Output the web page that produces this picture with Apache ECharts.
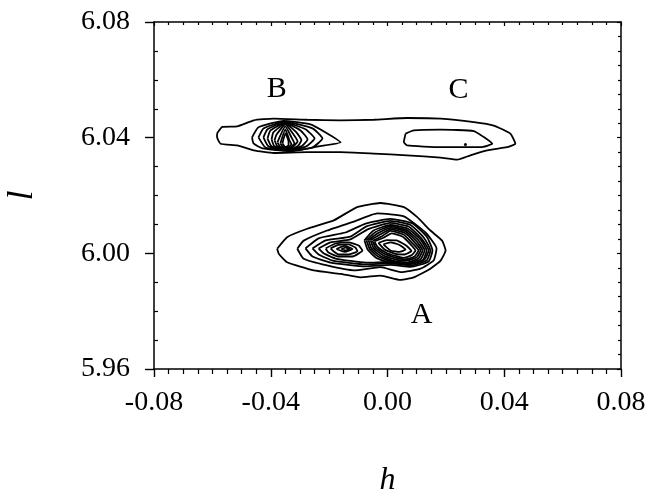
<!DOCTYPE html>
<html>
<head>
<meta charset="utf-8">
<script src="https://cdn.jsdelivr.net/npm/echarts@6/dist/echarts.min.js"></script>
<style>
  html, body { margin: 0; padding: 0; background: #fff; }
  #main { width: 648px; height: 490px; }
</style>
</head>
<body>
<div id="main"></div>
<script>
// contour rings, points are [h, l]
const ringBandBC = [
  [-0.0584, 6.0414], [-0.0566, 6.0437], [-0.0515, 6.0439], [-0.0458, 6.0460], [-0.0390, 6.0466],
  [-0.0275, 6.0462], [-0.0161, 6.0460], [-0.0047, 6.0462], [0.0067, 6.0468], [0.0182, 6.0466],
  [0.0296, 6.0454], [0.0364, 6.0442], [0.0421, 6.0414], [0.0438, 6.0379], [0.0410, 6.0367],
  [0.0342, 6.0356], [0.0284, 6.0339], [0.0239, 6.0324], [0.0182, 6.0331], [0.0067, 6.0339],
  [-0.0047, 6.0345], [-0.0161, 6.0350], [-0.0275, 6.0350], [-0.0390, 6.0347], [-0.0458, 6.0356],
  [-0.0515, 6.0373], [-0.0572, 6.0379], [-0.0584, 6.0402]
];

const ringC = [
  [0.0062, 6.0414], [0.0090, 6.0425], [0.0182, 6.0428], [0.0296, 6.0423], [0.0330, 6.0402],
  [0.0359, 6.0379], [0.0319, 6.0367], [0.0182, 6.0367], [0.0067, 6.0373], [0.0056, 6.0385]
];
const dotC = [[0.0267, 6.0376]];

const ringsB = [
  [[-0.0464, 6.0401], [-0.0442, 6.0436], [-0.0356, 6.0458], [-0.0264, 6.0446], [-0.0212, 6.0418],
   [-0.0161, 6.0384], [-0.0236, 6.0370], [-0.0332, 6.0353], [-0.0428, 6.0363], [-0.0459, 6.0380]],
  [[-0.0442, 6.0401], [-0.0425, 6.0432], [-0.0353, 6.0455], [-0.0257, 6.0432], [-0.0223, 6.0397],
   [-0.0257, 6.0366], [-0.0339, 6.0354], [-0.0418, 6.0366]],
  [[-0.0425, 6.0401], [-0.0411, 6.0429], [-0.0353, 6.0453], [-0.0281, 6.0429], [-0.0250, 6.0397],
   [-0.0278, 6.0370], [-0.0339, 6.0356], [-0.0408, 6.0370]],
  [[-0.0411, 6.0397], [-0.0401, 6.0425], [-0.0351, 6.0451], [-0.0298, 6.0425], [-0.0274, 6.0394],
   [-0.0295, 6.0370], [-0.0339, 6.0358], [-0.0397, 6.0370]],
  [[-0.0397, 6.0394], [-0.0391, 6.0418], [-0.0350, 6.0449], [-0.0312, 6.0418], [-0.0295, 6.0391],
   [-0.0308, 6.0370], [-0.0339, 6.0359], [-0.0387, 6.0370]],
  [[-0.0387, 6.0391], [-0.0380, 6.0411], [-0.0350, 6.0446], [-0.0322, 6.0411], [-0.0308, 6.0387],
   [-0.0322, 6.0370], [-0.0339, 6.0361], [-0.0377, 6.0370]],
  [[-0.0377, 6.0384], [-0.0350, 6.0439], [-0.0329, 6.0401], [-0.0319, 6.0380], [-0.0336, 6.0365],
   [-0.0367, 6.0368]],
  [[-0.0367, 6.0380], [-0.0350, 6.0429], [-0.0336, 6.0391], [-0.0329, 6.0377], [-0.0343, 6.0366],
   [-0.0360, 6.0370]],
  [[-0.0360, 6.0380], [-0.0350, 6.0415], [-0.0339, 6.0387], [-0.0339, 6.0373], [-0.0350, 6.0368]]
];

// rings around both parts of A, outer to inner
const ringsA = [
  [[-0.0378, 6.0016], [-0.0344, 6.0056], [-0.0275, 6.0085], [-0.0184, 6.0114], [-0.0104, 6.0160],
   [-0.0024, 6.0174], [0.0056, 6.0160], [0.0102, 6.0125], [0.0147, 6.0079], [0.0187, 6.0044],
   [0.0199, 6.0010], [0.0182, 5.9975], [0.0147, 5.9947], [0.0090, 5.9917], [0.0045, 5.9908],
   [-0.0024, 5.9923], [-0.0093, 5.9917], [-0.0161, 5.9929], [-0.0253, 5.9941], [-0.0344, 5.9969],
   [-0.0372, 5.9998]],
  [[-0.0309, 6.0016], [-0.0287, 6.0044], [-0.0207, 6.0079], [-0.0115, 6.0110], [-0.0035, 6.0138],
   [0.0056, 6.0128], [0.0130, 6.0072], [0.0168, 6.0017], [0.0158, 5.9975], [0.0113, 5.9947],
   [0.0045, 5.9935], [-0.0024, 5.9952], [-0.0115, 5.9941], [-0.0207, 5.9958], [-0.0287, 5.9981]],
  [[-0.0281, 6.0017], [-0.0236, 6.0052], [-0.0144, 6.0072], [-0.0075, 6.0103], [0.0010, 6.0119],
   [0.0086, 6.0103], [0.0134, 6.0058], [0.0154, 6.0010], [0.0141, 5.9972], [0.0079, 5.9953],
   [0.0010, 5.9960], [-0.0075, 5.9955], [-0.0195, 5.9968], [-0.0257, 5.9989]],
  [[-0.0257, 6.0017], [-0.0212, 6.0045], [-0.0127, 6.0058], [-0.0072, 6.0093], [0.0010, 6.0112],
   [0.0079, 6.0098], [0.0124, 6.0055], [0.0147, 6.0010], [0.0134, 5.9975], [0.0079, 5.9958],
   [0.0010, 5.9965], [-0.0075, 5.9962], [-0.0188, 5.9975], [-0.0236, 5.9996]],
  [[-0.0236, 6.0017], [-0.0195, 6.0038], [-0.0127, 6.0048], [-0.0068, 6.0083], [0.0010, 6.0105],
   [0.0072, 6.0093], [0.0116, 6.0052], [0.0141, 6.0010], [0.0127, 5.9979], [0.0075, 5.9963],
   [0.0010, 5.9970], [-0.0075, 5.9968], [-0.0178, 5.9982], [-0.0219, 6.0000]]
];

// left sub-peak of A
const ringsAleft = [
  [[-0.0212, 6.0017], [-0.0178, 6.0034], [-0.0134, 6.0038], [-0.0099, 6.0027], [-0.0086, 6.0010],
   [-0.0120, 5.9989], [-0.0168, 5.9989], [-0.0202, 6.0003]],
  [[-0.0195, 6.0017], [-0.0168, 6.0029], [-0.0134, 6.0031], [-0.0110, 6.0020], [-0.0103, 6.0007],
   [-0.0134, 5.9996], [-0.0168, 5.9996], [-0.0185, 6.0007]],
  [[-0.0175, 6.0015], [-0.0147, 6.0026], [-0.0120, 6.0015], [-0.0147, 6.0005]],
  [[-0.0158, 6.0015], [-0.0144, 6.0020], [-0.0130, 6.0015], [-0.0144, 6.0010]]
];

// dense right core of A
const ringsAright = [
  [[-0.0079, 6.0045], [-0.0048, 6.0079], [0.0010, 6.0098], [0.0069, 6.0086], [0.0113, 6.0048],
   [0.0134, 6.0010], [0.0120, 5.9975], [0.0072, 5.9962], [0.0010, 5.9967], [-0.0038, 5.9984],
   [-0.0068, 6.0013]],
  [[-0.0072, 6.0045], [-0.0041, 6.0074], [0.0010, 6.0093], [0.0065, 6.0081], [0.0106, 6.0045],
   [0.0127, 6.0010], [0.0113, 5.9979], [0.0069, 5.9965], [0.0014, 5.9972], [-0.0031, 5.9988],
   [-0.0061, 6.0015]],
  [[-0.0065, 6.0045], [-0.0034, 6.0069], [0.0010, 6.0088], [0.0062, 6.0076], [0.0100, 6.0041],
   [0.0120, 6.0010], [0.0106, 5.9982], [0.0065, 5.9968], [0.0017, 5.9975], [-0.0024, 5.9991],
   [-0.0055, 6.0017]],
  [[-0.0058, 6.0045], [-0.0027, 6.0064], [0.0010, 6.0083], [0.0058, 6.0071], [0.0093, 6.0038],
   [0.0113, 6.0010], [0.0100, 5.9986], [0.0062, 5.9974], [0.0020, 5.9981], [-0.0017, 5.9994],
   [-0.0048, 6.0019]],
  [[-0.0051, 6.0043], [-0.0021, 6.0058], [0.0010, 6.0078], [0.0055, 6.0065], [0.0086, 6.0034],
   [0.0106, 6.0010], [0.0093, 5.9989], [0.0058, 5.9979], [0.0024, 5.9986], [-0.0010, 5.9998],
   [-0.0041, 6.0020]],
  [[-0.0045, 6.0041], [-0.0014, 6.0054], [0.0014, 6.0069], [0.0051, 6.0058], [0.0079, 6.0031],
   [0.0096, 6.0010], [0.0082, 5.9993], [0.0055, 5.9984], [0.0027, 5.9991], [-0.0003, 6.0001],
   [-0.0034, 6.0022]],
  [[-0.0031, 6.0036], [-0.0003, 6.0046], [0.0031, 6.0045], [0.0065, 6.0026], [0.0082, 6.0008],
   [0.0058, 5.9996], [0.0027, 5.9998], [-0.0010, 6.0013]],
  [[-0.0014, 6.0031], [0.0010, 6.0038], [0.0041, 6.0029], [0.0062, 6.0013], [0.0041, 6.0005],
   [0.0010, 6.0010]]
];

const peakNames = ['A', 'B', 'C'];
const peakPos = [[0.0117, 5.9785], [-0.0379, 6.0569], [0.0243, 6.0565]];

const hRange = [-0.08, 0.08];
const lRange = [5.96, 6.08];
const tickStep = 0.04;

const serif = '"Liberation Serif", "Times New Roman", serif';
const black = '#000';

const closeRing = ring => ring.concat([ring[0]]);
const allRings = [ringBandBC, ringC]
  .concat(ringsB, ringsA, ringsAleft, ringsAright);

const contourSeries = allRings.map(ring => ({
  type: 'line',
  data: closeRing(ring),
  showSymbol: false,
  silent: true,
  smooth: 0.15,
  lineStyle: { color: black, width: 1.8 }
}));

const fmt = v => (Math.abs(v) < 1e-9 ? '0.00' : v.toFixed(2));

const chart = echarts.init(document.getElementById('main'));
chart.setOption({
  animation: false,
  backgroundColor: '#fff',
  grid: { left: 154, right: 27, top: 22, bottom: 121, containLabel: false, outerBoundsMode: 'none' },
  xAxis: [
    {
      type: 'value',
      position: 'bottom',
      min: hRange[0],
      max: hRange[1],
      interval: tickStep,
      axisLine: { onZero: false, lineStyle: { color: black, width: 1.5 } },
      axisTick: { length: 8, lineStyle: { color: black, width: 1.4 } },
      minorTick: { show: true, splitNumber: 8, length: 5, lineStyle: { color: black, width: 1.2 } },
      splitLine: { show: false },
      axisLabel: { formatter: fmt, fontFamily: serif, fontSize: 28, color: black, margin: 20 },
      name: 'h',
      nameLocation: 'middle',
      nameGap: 96,
      nameTextStyle: { fontFamily: serif, fontStyle: 'italic', fontSize: 32, color: black }
    },
    {
      type: 'value',
      position: 'top',
      min: hRange[0],
      max: hRange[1],
      interval: tickStep,
      axisLine: { onZero: false, lineStyle: { color: black, width: 1.5 } },
      axisTick: { inside: true, length: 4, lineStyle: { color: black, width: 1.2 } },
      minorTick: { show: true, splitNumber: 8, length: 3, lineStyle: { color: black, width: 1.2 } },
      splitLine: { show: false },
      axisLabel: { show: false }
    }
  ],
  yAxis: [
    {
      type: 'value',
      position: 'left',
      min: lRange[0],
      max: lRange[1],
      interval: tickStep,
      axisLine: { onZero: false, lineStyle: { color: black, width: 1.5 } },
      axisTick: { length: 9, lineStyle: { color: black, width: 1.4 } },
      minorTick: { show: true, splitNumber: 4, length: -4, lineStyle: { color: black, width: 1.2 } },
      splitLine: { show: false },
      axisLabel: { formatter: fmt, fontFamily: serif, fontSize: 28, color: black, margin: 24 },
      name: 'l',
      nameLocation: 'middle',
      nameGap: 113,
      nameTextStyle: { fontFamily: serif, fontStyle: 'italic', fontSize: 36, color: black }
    },
    {
      type: 'value',
      position: 'right',
      min: lRange[0],
      max: lRange[1],
      interval: tickStep,
      axisLine: { onZero: false, lineStyle: { color: black, width: 1.5 } },
      axisTick: { inside: true, length: 4, lineStyle: { color: black, width: 1.2 } },
      minorTick: { show: true, splitNumber: 8, length: 3, lineStyle: { color: black, width: 1.2 } },
      splitLine: { show: false },
      axisLabel: { show: false }
    }
  ],
  series: contourSeries.concat([
    {
      type: 'scatter',
      data: dotC,
      symbolSize: 3,
      silent: true,
      itemStyle: { color: black, opacity: 1 }
    },
    {
      type: 'scatter',
      data: peakPos.map((p, i) => ({ value: p, name: peakNames[i] })),
      symbolSize: 0,
      silent: true,
      itemStyle: { opacity: 1 },
      label: {
        show: true,
        position: 'inside',
        formatter: p => p.name,
        fontFamily: serif,
        fontSize: 30,
        color: black,
        textBorderWidth: 0
      }
    }
  ])
});
</script>
</body>
</html>
